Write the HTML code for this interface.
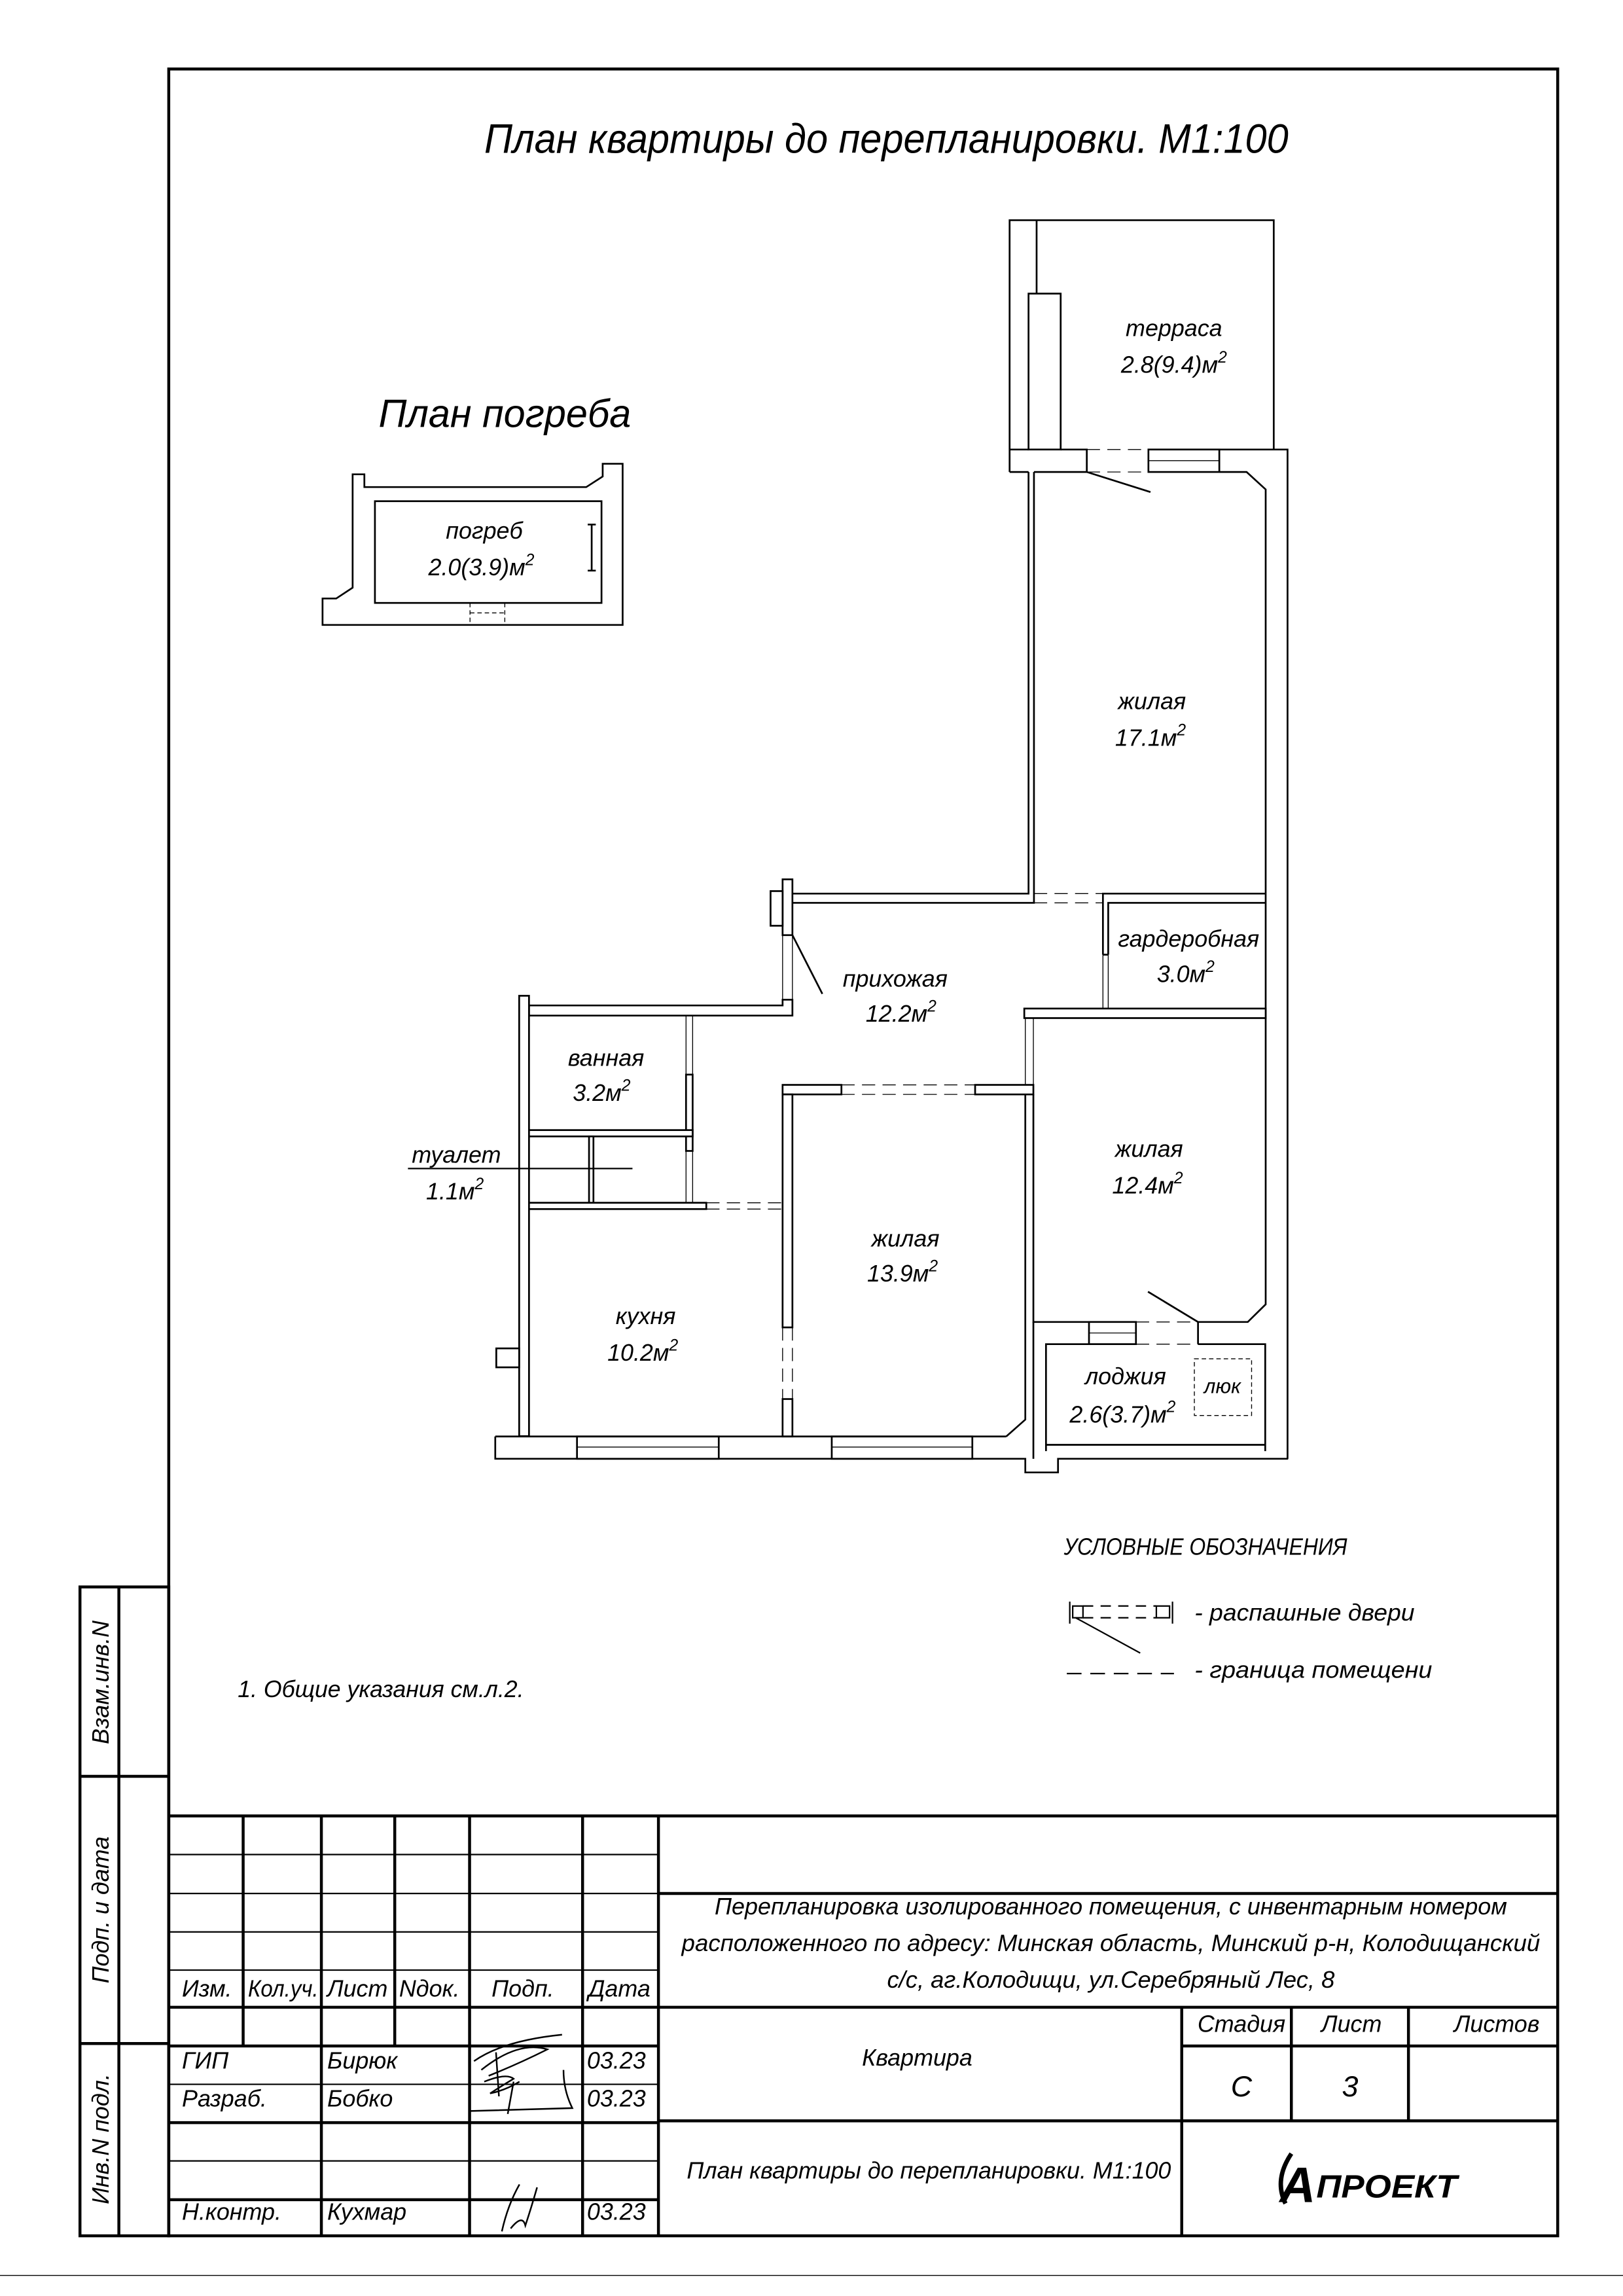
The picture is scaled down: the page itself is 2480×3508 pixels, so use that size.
<!DOCTYPE html>
<html><head><meta charset="utf-8"><style>
html,body{margin:0;padding:0;background:#fff}
svg{display:block}
text{font-family:"Liberation Sans Narrow","Liberation Sans",sans-serif;font-style:italic;fill:#000}
.w{fill:#fff;stroke:#000;stroke-width:1.2}
.l{stroke:#000;stroke-width:1.2;fill:none}
.th{stroke:#000;stroke-width:0.6;fill:none}
.d{stroke:#000;stroke-width:0.6;fill:none;stroke-dasharray:9 5}
.f{stroke:#000;stroke-width:2;fill:none}
.lb{font-size:16px;text-anchor:middle}
</style></head><body>
<svg width="2480" height="3508" viewBox="0 0 1106 1564" preserveAspectRatio="none" xmlns="http://www.w3.org/2000/svg">
<rect width="1106" height="1564" fill="#fff"/>
<!-- frame -->
<rect x="115" y="47" width="946.5" height="1476" class="f"/>
<line x1="0" y1="1550" x2="1106" y2="1550" class="th"/>
<!-- side strip -->
<rect x="54.5" y="1081" width="60.5" height="442" class="f"/>
<line x1="81" y1="1081" x2="81" y2="1523" class="f"/>
<line x1="54.5" y1="1210" x2="115" y2="1210" class="f"/>
<line x1="54.5" y1="1392" x2="115" y2="1392" class="f"/>
<text transform="translate(74,1146) rotate(-90)" style="font-size:16px;text-anchor:middle">Взам.инв.N</text>
<text transform="translate(74,1301) rotate(-90)" style="font-size:16px;text-anchor:middle">Подп. и дата</text>
<text transform="translate(74,1457) rotate(-90)" style="font-size:16px;text-anchor:middle">Инв.N подл.</text>
<!-- title block -->
<line x1="115" y1="1237" x2="1061.5" y2="1237" class="f"/>
<g class="th" style="stroke-width:1">
<line x1="115" y1="1263.3" x2="448.7" y2="1263.3"/>
<line x1="115" y1="1289.8" x2="448.7" y2="1289.8"/>
<line x1="115" y1="1316" x2="448.7" y2="1316"/>
<line x1="115" y1="1342" x2="448.7" y2="1342"/>
<line x1="115" y1="1419.8" x2="448.7" y2="1419.8"/>
<line x1="115" y1="1472" x2="448.7" y2="1472"/>
</g>
<line x1="115" y1="1367.3" x2="1061.5" y2="1367.3" class="f"/>
<line x1="115" y1="1393.7" x2="448.7" y2="1393.7" class="f"/>
<line x1="115" y1="1445.9" x2="448.7" y2="1445.9" class="f"/>
<line x1="115" y1="1498.4" x2="448.7" y2="1498.4" class="f"/>
<line x1="165.7" y1="1237" x2="165.7" y2="1393.7" class="f"/>
<line x1="219" y1="1237" x2="219" y2="1523" class="f"/>
<line x1="269" y1="1237" x2="269" y2="1393.7" class="f"/>
<line x1="320" y1="1237" x2="320" y2="1523" class="f"/>
<line x1="397" y1="1237" x2="397" y2="1523" class="f"/>
<line x1="448.7" y1="1237" x2="448.7" y2="1523" class="f"/>
<line x1="448.7" y1="1289.8" x2="1061.5" y2="1289.8" class="f"/>
<line x1="448.7" y1="1444.7" x2="1061.5" y2="1444.7" class="f"/>
<line x1="805.3" y1="1367.3" x2="805.3" y2="1523" class="f"/>
<line x1="805.3" y1="1393.7" x2="1061.5" y2="1393.7" class="f"/>
<line x1="880" y1="1367.3" x2="880" y2="1444.7" class="f"/>
<line x1="959.8" y1="1367.3" x2="959.8" y2="1444.7" class="f"/>
<g style="font-size:16px">
<text x="124" y="1360">Изм.</text>
<text x="169" y="1360" textLength="48" lengthAdjust="spacingAndGlyphs">Кол.уч.</text>
<text x="223" y="1360">Лист</text>
<text x="272" y="1360">Nдок.</text>
<text x="335" y="1360">Подп.</text>
<text x="401" y="1360">Дата</text>
<text x="124" y="1409">ГИП</text>
<text x="223" y="1409">Бирюк</text>
<text x="400" y="1409">03.23</text>
<text x="124" y="1435">Разраб.</text>
<text x="223" y="1435">Бобко</text>
<text x="400" y="1435">03.23</text>
<text x="124" y="1512">Н.контр.</text>
<text x="223" y="1512">Кухмар</text>
<text x="400" y="1512">03.23</text>
<text x="757" y="1304" text-anchor="middle" textLength="540" lengthAdjust="spacingAndGlyphs">Перепланировка изолированного помещения, с инвентарным номером</text>
<text x="757" y="1329" text-anchor="middle" textLength="585" lengthAdjust="spacingAndGlyphs">расположенного по адресу: Минская область, Минский р-н, Колодищанский</text>
<text x="757" y="1354" text-anchor="middle" textLength="305" lengthAdjust="spacingAndGlyphs">с/с, аг.Колодищи, ул.Серебряный Лес, 8</text>
<text x="625" y="1407" text-anchor="middle">Квартира</text>
<text x="846" y="1384" text-anchor="middle">Стадия</text>
<text x="921" y="1384" text-anchor="middle">Лист</text>
<text x="1020" y="1384" text-anchor="middle">Листов</text>
<text x="846" y="1428" text-anchor="middle" style="font-size:20px">С</text>
<text x="920" y="1428" text-anchor="middle" style="font-size:20px">3</text>
<text x="633" y="1484" text-anchor="middle" textLength="330" lengthAdjust="spacingAndGlyphs">План квартиры до перепланировки. М1:100</text>
</g>
<!-- logo -->
<path d="M880,1467 q-12,18 -4,34" class="l" style="stroke-width:3"/>
<text x="872" y="1500" style="font-size:34px;font-weight:bold">А</text>
<text x="897" y="1497" style="font-size:22px;font-weight:bold" textLength="96" lengthAdjust="spacingAndGlyphs">ПРОЕКТ</text>
<!-- signatures -->
<path d="M323,1404 q20,-14 60,-18 M328,1410 q25,-20 45,-14 q-20,10 -40,18 M338,1398 l2,30 M320,1438 l70,-2 q-6,-12 -6,-26 M330,1418 q15,-6 20,-2 q-10,6 -16,10 q10,-2 20,-8 M346,1440 l4,-22" class="th" style="stroke-width:1.1"/>
<path d="M342,1520 q4,-18 12,-32 M348,1518 q8,-10 10,-2 q4,-12 8,-26" class="th" style="stroke-width:1.1"/>
<!-- titles -->
<text x="330" y="104" style="font-size:28px" textLength="548" lengthAdjust="spacingAndGlyphs">План квартиры до перепланировки. М1:100</text>
<text x="258" y="291" style="font-size:27px" textLength="172" lengthAdjust="spacingAndGlyphs">План погреба</text>
<text x="162" y="1156" style="font-size:16px" textLength="195" lengthAdjust="spacingAndGlyphs">1. Общие указания см.л.2.</text>
<text x="725" y="1059" style="font-size:16px" textLength="193" lengthAdjust="spacingAndGlyphs">УСЛОВНЫЕ ОБОЗНАЧЕНИЯ</text>
<text x="814" y="1104" style="font-size:16px" textLength="150" lengthAdjust="spacingAndGlyphs">- распашные двери</text>
<text x="814" y="1143" style="font-size:16px" textLength="162" lengthAdjust="spacingAndGlyphs">- граница помещени</text>
<!-- legend symbols -->
<g class="th" style="stroke-width:1">
<line x1="729" y1="1091" x2="729" y2="1106"/>
<rect x="731" y="1094" width="7" height="8" class="l" style="stroke-width:1"/>
<line x1="738" y1="1094" x2="788" y2="1094" stroke-dasharray="7 5"/>
<line x1="738" y1="1102" x2="788" y2="1102" stroke-dasharray="7 5"/>
<rect x="788" y="1094" width="9" height="8" class="l" style="stroke-width:1"/>
<line x1="799" y1="1091" x2="799" y2="1106"/>
<line x1="733" y1="1102" x2="777" y2="1126"/>
<line x1="727" y1="1140" x2="800" y2="1140" stroke-dasharray="10 6"/>
</g>
<!-- cellar -->
<path d="M240.3,331.8 L240.3,323.1 L248.3,323.1 L248.3,331.8 L399.5,331.8 L410.7,324.6 L410.7,315.9 L424.3,315.9 L424.3,425.7 L219.8,425.7 L219.8,407.7 L229.1,407.7 L240.3,400.3 Z" class="l"/>
<rect x="255.5" y="341.4" width="154.4" height="69.3" class="l"/>
<line x1="320.3" y1="410.7" x2="320.3" y2="425.7" class="th" stroke-dasharray="3 2"/>
<line x1="344" y1="410.7" x2="344" y2="425.7" class="th" stroke-dasharray="3 2"/>
<line x1="320.3" y1="417.5" x2="344" y2="417.5" class="th" stroke-dasharray="3 2"/>
<path d="M403.2,357.3 V388.7 M400.5,357.3 H406 M400.5,388.7 H406" class="l"/>
<text x="330" y="367" class="lb">погреб</text>
<text x="328" y="392" class="lb">2.0(3.9)м<tspan dy="-7" style="font-size:11px">2</tspan></text>
<!-- terrace -->
<path d="M688,321.5 V150 H868 V306.2" class="l"/>
<line x1="706.4" y1="150" x2="706.4" y2="200" class="l"/>
<rect x="700.9" y="200" width="21.9" height="106.2" class="w"/>
<path d="M688,306.2 H700.9 M722.8,306.2 H740.6 V321.5 M688,321.5 H700.9 M704.6,321.5 H740.6" class="l"/>
<line x1="740.6" y1="306.2" x2="782.6" y2="306.2" class="d"/>
<line x1="740.6" y1="321.5" x2="782.6" y2="321.5" class="d"/>
<rect x="782.6" y="306.2" width="48.3" height="15.3" class="l"/>
<line x1="782.6" y1="313.8" x2="830.9" y2="313.8" class="th"/>
<line x1="740.6" y1="321.5" x2="784" y2="335.2" class="l"/>
<path d="M830.9,306.2 H877.4 V993.7" class="l"/>
<path d="M830.9,321.5 H849.5 L862.5,333.4 V888.5 L850.3,900.5 H816.4 V915.6" class="l"/>
<!-- 17.1 left wall -->
<path d="M700.9,321.5 V608.7 H540 M704.6,321.5 V615 H540" class="l"/>
<line x1="704.6" y1="608.7" x2="751.6" y2="608.7" class="d"/>
<line x1="704.6" y1="615" x2="751.6" y2="615" class="d"/>
<path d="M751.6,650.3 V608.7 H862.5 M755.2,650.3 V615 H862.5 M751.6,650.3 H755.2" class="l"/>
<line x1="751.6" y1="650.3" x2="751.6" y2="687" class="th"/>
<line x1="755.2" y1="650.3" x2="755.2" y2="687" class="th"/>
<rect x="698" y="687" width="164.5" height="6.5" class="w"/>
<line x1="698.7" y1="693.5" x2="698.7" y2="739" class="th"/>
<line x1="704.2" y1="693.5" x2="704.2" y2="739" class="th"/>
<!-- hall pillar and entry -->
<rect x="533.3" y="599" width="6.7" height="38" class="w"/>
<rect x="525.1" y="607" width="8.2" height="23.6" class="w"/>
<line x1="533.3" y1="637" x2="533.3" y2="681" class="th"/>
<line x1="540" y1="637" x2="540" y2="681" class="th"/>
<line x1="540" y1="637" x2="560.4" y2="677" class="l"/>
<path d="M533.3,681 H540 V691.8 H360.5 V684.9 H533.3 Z" class="w"/>
<!-- left exterior wall -->
<rect x="353.8" y="678.3" width="6.7" height="300" class="w"/>
<rect x="338.2" y="918.5" width="15.6" height="12.9" class="w"/>
<!-- bath / toilet -->
<line x1="467.5" y1="691.8" x2="467.5" y2="732" class="th"/>
<line x1="472" y1="691.8" x2="472" y2="732" class="th"/>
<rect x="467.5" y="732" width="4.5" height="52" class="w"/>
<line x1="467.5" y1="784" x2="467.5" y2="819.3" class="th"/>
<line x1="472" y1="784" x2="472" y2="819.3" class="th"/>
<rect x="360.5" y="769.8" width="111.5" height="4.3" class="w"/>
<rect x="360.5" y="819.3" width="120.8" height="4.3" class="w"/>
<rect x="401.4" y="774.1" width="3" height="45.2" class="w"/>
<line x1="481.3" y1="819.3" x2="533.3" y2="819.3" class="d"/>
<line x1="481.3" y1="823.6" x2="533.3" y2="823.6" class="d"/>
<line x1="278" y1="796" x2="431" y2="796" class="l" style="stroke-width:1"/>
<!-- 13.9 room -->
<rect x="533.3" y="739" width="40.1" height="6.5" class="w"/>
<rect x="664.5" y="739" width="39.7" height="6.5" class="w"/>
<line x1="573.4" y1="739" x2="664.5" y2="739" class="d"/>
<line x1="573.4" y1="745.5" x2="664.5" y2="745.5" class="d"/>
<rect x="533.3" y="745.5" width="6.7" height="158.7" class="w"/>
<line x1="533.3" y1="904.2" x2="533.3" y2="953" class="th" stroke-dasharray="9 5"/>
<line x1="540" y1="904.2" x2="540" y2="953" class="th" stroke-dasharray="9 5"/>
<rect x="533.3" y="953" width="6.7" height="25.5" class="w"/>
<path d="M704.2,745.5 V900.5 H742.1" class="l"/>
<path d="M698.7,745.5 V967 L685.7,978.5" class="l"/>
<!-- bottom exterior -->
<path d="M337.5,978.5 H685.7 M337.5,978.5 V993.7 H698.7 V1003 H721 V993.7 H877.8" class="l"/>
<line x1="704.2" y1="900.5" x2="704.2" y2="993.7" class="l"/>
<rect x="393.2" y="978.5" width="96.6" height="15.2" class="l"/>
<line x1="393.2" y1="985.7" x2="489.8" y2="985.7" class="th"/>
<rect x="566.8" y="978.5" width="95.8" height="15.2" class="l"/>
<line x1="566.8" y1="985.7" x2="662.6" y2="985.7" class="th"/>
<!-- loggia -->
<rect x="742.1" y="900.5" width="32" height="15.1" class="l"/>
<line x1="742.1" y1="908" x2="774.1" y2="908" class="th"/>
<line x1="774.1" y1="900.5" x2="816.4" y2="900.5" class="d"/>
<line x1="774.1" y1="915.6" x2="816.4" y2="915.6" class="d"/>
<line x1="816.4" y1="900.5" x2="782.3" y2="879.9" class="l"/>
<path d="M742.1,915.6 H712.8 V988.5 M816.4,915.6 H862.2 V988.5" class="l"/>
<line x1="712.8" y1="984.2" x2="862.2" y2="984.2" class="l"/>
<rect x="813.9" y="925.6" width="39" height="38.6" class="th" stroke-dasharray="3 2"/>
<!-- room labels -->
<text x="800" y="229" class="lb">терраса</text>
<text x="800" y="254" class="lb">2.8(9.4)м<tspan dy="-7" style="font-size:11px">2</tspan></text>
<text x="785" y="483" class="lb">жилая</text>
<text x="784" y="508" class="lb">17.1м<tspan dy="-7" style="font-size:11px">2</tspan></text>
<text x="810" y="645" class="lb">гардеробная</text>
<text x="808" y="669" class="lb">3.0м<tspan dy="-7" style="font-size:11px">2</tspan></text>
<text x="610" y="672" class="lb">прихожая</text>
<text x="614" y="696" class="lb">12.2м<tspan dy="-7" style="font-size:11px">2</tspan></text>
<text x="413" y="726" class="lb">ванная</text>
<text x="410" y="750" class="lb">3.2м<tspan dy="-7" style="font-size:11px">2</tspan></text>
<text x="311" y="792" class="lb">туалет</text>
<text x="310" y="817" class="lb">1.1м<tspan dy="-7" style="font-size:11px">2</tspan></text>
<text x="783" y="788" class="lb">жилая</text>
<text x="782" y="813" class="lb">12.4м<tspan dy="-7" style="font-size:11px">2</tspan></text>
<text x="617" y="849" class="lb">жилая</text>
<text x="615" y="873" class="lb">13.9м<tspan dy="-7" style="font-size:11px">2</tspan></text>
<text x="440" y="902" class="lb">кухня</text>
<text x="438" y="927" class="lb">10.2м<tspan dy="-7" style="font-size:11px">2</tspan></text>
<text x="767" y="943" class="lb">лоджия</text>
<text x="765" y="969" class="lb">2.6(3.7)м<tspan dy="-7" style="font-size:11px">2</tspan></text>
<text x="833" y="949" class="lb" style="font-size:14px">люк</text>
</svg>
</body></html>
